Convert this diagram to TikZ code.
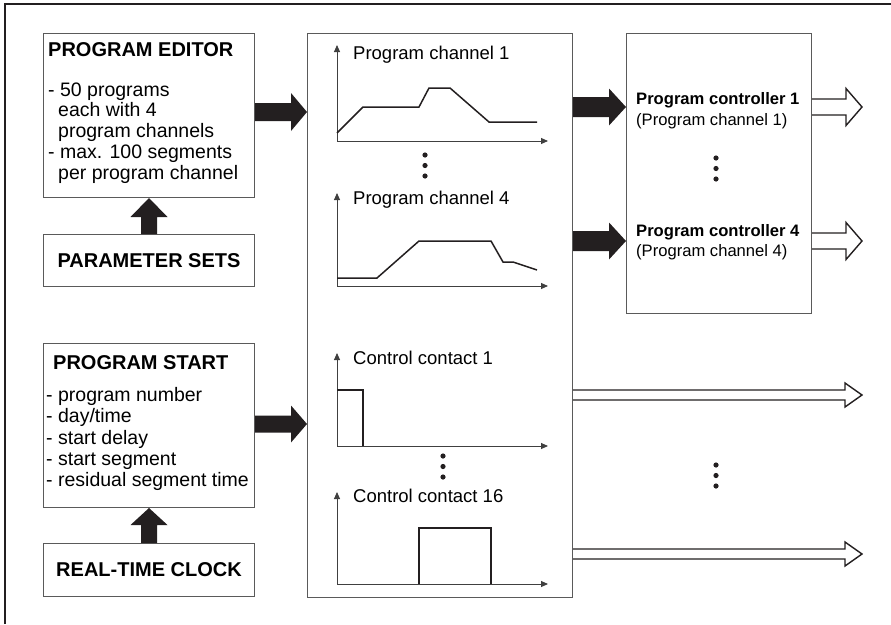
\documentclass[tikz,border=0pt]{standalone}
\usepackage{fontspec}
\setmainfont{Liberation Sans}
\usetikzlibrary{arrows.meta,calc}

\definecolor{arrowblack}{HTML}{231F20}
\definecolor{boxgray}{HTML}{5A5A5A}

\tikzset{
    box/.style={draw=boxgray, line width=1pt, inner sep=0pt, anchor=north west},
    head/.style={font=\fontsize{20}{24}\selectfont\bfseries, inner sep=0pt},
    body/.style={font=\fontsize{19.5}{20.75}\selectfont, inner sep=0pt, align=left, anchor=base west},
    plottitle/.style={font=\fontsize{18.5}{22}\selectfont, inner sep=0pt, anchor=base west},
    ctrltext/.style={font=\fontsize{16.6}{20}\selectfont, inner sep=0pt, anchor=base west},
    axis/.style={draw=black!75, line width=0.9pt, {Triangle[length=7pt,width=6pt]}-{Triangle[length=7pt,width=6pt]}},
    curve/.style={draw=arrowblack, line width=1.5pt, line join=miter},
    dot/.style={fill=arrowblack},
    solid arrow/.style={fill=arrowblack},
    open arrow/.style={draw=arrowblack, line width=1.4pt, fill=white, line join=miter}
}

% block arrows: from, tip, half shaft, half head, head length
\newcommand{\solidright}[5]{%
    \fill[solid arrow] ($(#1)+(0,-#3)$) -- ($(#2)+(-#5,-#3)$) -- ($(#2)+(-#5,-#4)$) -- (#2)
        -- ($(#2)+(-#5,#4)$) -- ($(#2)+(-#5,#3)$) -- ($(#1)+(0,#3)$) -- cycle;}
\newcommand{\solidup}[5]{%
    \fill[solid arrow] ($(#1)+(-#3,0)$) -- ($(#2)+(-#3,#5)$) -- ($(#2)+(-#4,#5)$) -- (#2)
        -- ($(#2)+(#4,#5)$) -- ($(#2)+(#3,#5)$) -- ($(#1)+(#3,0)$) -- cycle;}
\newcommand{\openright}[5]{%
    \draw[open arrow] ($(#1)+(0,-#3)$) -- ($(#2)+(-#5,-#3)$) -- ($(#2)+(-#5,-#4)$) -- (#2)
        -- ($(#2)+(-#5,#4)$) -- ($(#2)+(-#5,#3)$) -- ($(#1)+(0,#3)$);}

\begin{document}
\begin{tikzpicture}[x=1pt, y=-1pt]
    \useasboundingbox (0,0) rectangle (891,624);

    % frame (top and left only)
    \draw[line width=2.5pt, arrowblack] (5,624) -- (5,4) -- (891,4);

    % left column
    \node[box, minimum width=211pt, minimum height=164pt] (editor) at (43,33) {};
    \node[head, anchor=base west] (edhead) at (48,56.7) {PROGRAM EDITOR};
    \node[body] (edbody) at (48,179) {- 50 programs\\\hspace*{10pt}each with 4\\\hspace*{10pt}program channels\\- max. 100 segments\\\hspace*{10pt}per program channel};

    \node[box, minimum width=211pt, minimum height=52pt] (params) at (43,234) {};
    \node[head] (paramtext) at (params.center) {PARAMETER SETS};

    \node[box, minimum width=211pt, minimum height=164pt] (start) at (43,343) {};
    \node[head, anchor=base west] (sthead) at (53,369.3) {PROGRAM START};
    \node[body, font=\fontsize{19.5}{21.25}\selectfont] (stbody) at (46,486.7) {- program number\\- day/time\\- start delay\\- start segment\\- residual segment time};

    \node[box, minimum width=211pt, minimum height=53pt] (clock) at (43,543) {};
    \node[head] (clocktext) at (clock.center) {REAL-TIME CLOCK};

    % middle column with the profiles
    \node[box, minimum width=265pt, minimum height=564pt] (mid) at (307,33) {};

    \node[plottitle] (pc1) at (353,59.5) {Program channel 1};
    \draw[axis] (337,45) -- (337,141) -- (548,141);
    \draw[curve] (337,133) -- (363,107) -- (419,107) -- (429,88) -- (450,88) -- (489,122) -- (537,122);
    \fill[dot] (425,155) circle (2.6pt) (425,165.5) circle (2.6pt) (425,176) circle (2.6pt);

    \node[plottitle] (pc4) at (353,204.5) {Program channel 4};
    \draw[axis] (337,193) -- (337,286) -- (548,286);
    \draw[curve] (337,278) -- (377,278) -- (419,241) -- (491,241) -- (503,262) -- (513,262) -- (537,270);

    \node[plottitle] (cc1) at (353,364.5) {Control contact 1};
    \draw[axis] (337,353) -- (337,446) -- (548,446);
    \draw[curve] (337,390) -- (363,390) -- (363,446);
    \fill[dot] (443,456) circle (2.6pt) (443,466.5) circle (2.6pt) (443,477) circle (2.6pt);

    \node[plottitle] (cc16) at (353,502.5) {Control contact 16};
    \draw[axis] (337,492) -- (337,584) -- (548,584);
    \draw[curve] (419,584) -- (419,528) -- (491,528) -- (491,584);

    % right column
    \node[box, minimum width=185pt, minimum height=280pt] (ctrl) at (626,33) {};
    \node[ctrltext, font=\fontsize{16.6}{20}\selectfont\bfseries] (pk1) at (636,104) {Program controller 1};
    \node[ctrltext] (pk1ch) at (636,125) {(Program channel 1)};
    \fill[dot] (716,158) circle (2.6pt) (716,168.5) circle (2.6pt) (716,179) circle (2.6pt);
    \node[ctrltext, font=\fontsize{16.6}{20}\selectfont\bfseries] (pk4) at (636,236) {Program controller 4};
    \node[ctrltext] (pk4ch) at (636,256) {(Program channel 4)};
    \fill[dot] (716,465) circle (2.6pt) (716,475.5) circle (2.6pt) (716,486) circle (2.6pt);

    % connector end points
    \coordinate (edout) at (editor.east |- 0,112);
    \coordinate (midin1) at (mid.west |- 0,112);
    \coordinate (stout) at (start.east |- 0,424);
    \coordinate (midin2) at (mid.west |- 0,424);
    \coordinate (midout1) at (mid.east |- 0,107);
    \coordinate (ctrlin1) at (ctrl.west |- 0,107);
    \coordinate (midout4) at (mid.east |- 0,241);
    \coordinate (ctrlin4) at (ctrl.west |- 0,241);
    \coordinate (ctrlout1) at (ctrl.east |- 0,107);
    \coordinate (end1) at (862,107);
    \coordinate (ctrlout4) at (ctrl.east |- 0,241);
    \coordinate (end4) at (862,241);
    \coordinate (midout5) at (mid.east |- 0,395);
    \coordinate (end5) at (862,395);
    \coordinate (midout6) at (mid.east |- 0,554);
    \coordinate (end6) at (862,554);

    % black arrows
    \solidright{edout}{midin1}{9}{19}{16}
    \solidup{params.north}{editor.south}{8}{18.5}{19}
    \solidright{stout}{midin2}{8.5}{18.5}{16}
    \solidup{clock.north}{start.south}{8}{18.5}{17}
    \solidright{midout1}{ctrlin1}{10}{18.5}{17}
    \solidright{midout4}{ctrlin4}{10}{18.5}{17}

    % open arrows
    \openright{ctrlout1}{end1}{8}{18.5}{16}
    \openright{ctrlout4}{end4}{8}{18.5}{16}
    \openright{midout5}{end5}{5}{12}{17}
    \openright{midout6}{end6}{5}{12}{17}
\end{tikzpicture}
\end{document}
